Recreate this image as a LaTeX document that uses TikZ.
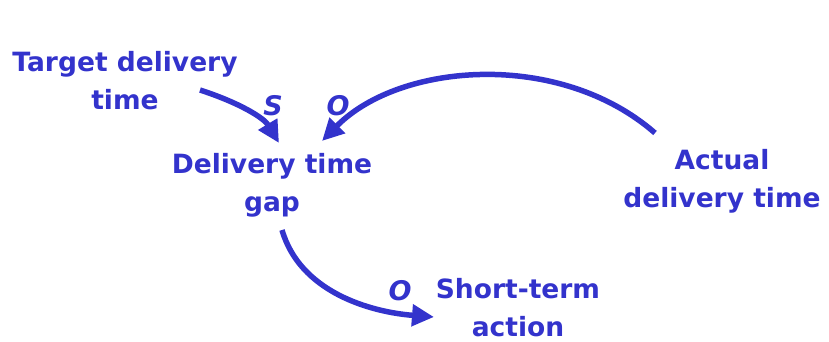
\documentclass[tikz,border=0pt]{standalone}
\usepackage{fontspec}
\setmainfont{DejaVu Sans}
\usetikzlibrary{arrows.meta}
\definecolor{cldblue}{RGB}{51,51,204}
\tikzset{
  var/.style={text=cldblue, font=\fontsize{26.5}{38}\selectfont\bfseries, align=center, inner sep=0pt},
  pol/.style={text=cldblue, font=\fontsize{27}{30}\selectfont\bfseries\itshape, inner sep=0pt},
  link/.style={draw=cldblue, line width=5.5pt, -{Triangle[length=22pt,width=21pt]}}
}
\begin{document}
\begin{tikzpicture}[x=1pt,y=-1pt]
\useasboundingbox (0,0) rectangle (829,342);
\node[var] (target) at (125,81) {Target delivery\\time};
\node[var] (gap) at (272,185) {Delivery time\\gap};
\node[var] (actual) at (722,181) {Actual\\delivery time};
\node[var] (action) at (518,308) {Short-term\\action};
\coordinate (a1s) at (200,90);
\coordinate (a1e) at (279,143);
\coordinate (a2s) at (655,133);
\coordinate (a2e) at (322,141);
\coordinate (a3s) at (282,230);
\coordinate (a3e) at (434,317);
\draw[link] (a1s) .. controls (240,103) and (264,118) .. (a1e);
\draw[link] (a2s) .. controls (560,50) and (400,62) .. (a2e);
\draw[link] (a3s) .. controls (300,292) and (370,312) .. (a3e);
\node[pol] (s1) at (273,106) {S};
\node[pol] (o1) at (338,106) {O};
\node[pol] (o2) at (400,291) {O};
\end{tikzpicture}
\end{document}
